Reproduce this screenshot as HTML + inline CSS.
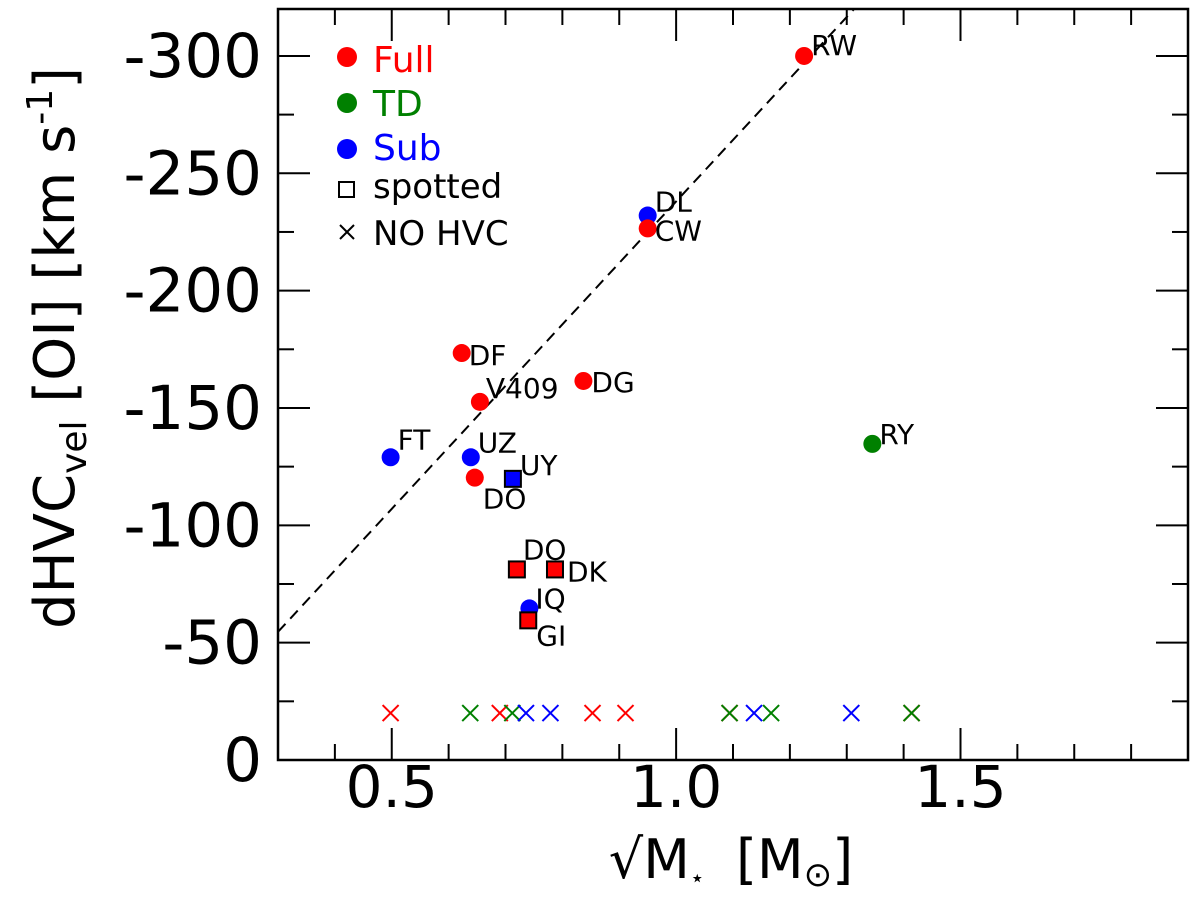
<!DOCTYPE html>
<html><head><meta charset="utf-8"><style>
body{margin:0;background:#fff}
svg{display:block;font-family:"DejaVu Sans","Liberation Sans",sans-serif}
</style></head><body>
<svg id="c" width="1200" height="905"></svg>
<script>
const names=["RW","DL","CW","DF","DG","V409","RY","FT","UZ","DO","UY","DO","DK","IQ","GI"];
const xs=[1.225,0.95,0.95,0.623,0.837,0.655,1.345,0.498,0.639,0.646,0.713,0.72,0.787,0.742,0.74];
const ys=[300,232,226.5,173.4,161.5,152.6,134.7,129,129,120.3,119.8,81.2,81.2,64.6,59.5];
const cls=["Full","Sub","Full","Full","Full","Full","TD","Sub","Sub","Full","Sub","Full","Full","Sub","Full"];
const spotted=[0,0,0,0,0,0,0,0,0,0,1,1,1,0,1];
const labDx=[7,7,7,7,8,6,7,7,7,8,7,6,12,6,8];
const labDy=[-1,-4,12,12,11,-4,0,-8,-5,31,-4,-10,12,0,25];
const noX=[0.498,0.69,0.638,0.712,0.736,0.779,0.853,0.911,1.094,1.094,1.137,1.167,1.308,1.414,1.414];
const noC=["Full","Full","TD","TD","Sub","Sub","Full","Full","Full","TD","Sub","TD","Sub","Full","TD"];
const noY=20;
const fitSlope=262, fitInt=-24;
const xTicks=[0.5,1.0,1.5], yTicks=[0,50,100,150,200,250,300];
const col={Full:"#ff0000",TD:"#008000",Sub:"#0000ff"};
const L=278,R=1188,T=9,B=760,x0=0.3,x1=1.9,y0=0,y1=320;
const X=v=>L+(v-x0)/(x1-x0)*(R-L), Y=v=>B-(v-y0)/(y1-y0)*(B-T);
const s=document.getElementById('c');const NS="http://www.w3.org/2000/svg";
function mk(t,a,p){const e=document.createElementNS(NS,t);for(const k in a)e.setAttribute(k,a[k]);(p||s).appendChild(e);return e;}
const xa=x0, xb=(y1-fitInt)/fitSlope;
let e=mk('line',{x1:X(xa),y1:Y(fitSlope*xa+fitInt),x2:X(xb),y2:Y(fitSlope*xb+fitInt),stroke:"#000","stroke-width":2,"stroke-dasharray":"11,7"});


for(let v=0.3;v<=1.9001;v+=0.1){const maj=Math.abs(v*2-Math.round(v*2))<1e-6;const h=maj?32:16;
 mk('line',{x1:X(v),y1:B,x2:X(v),y2:B-h,stroke:"#000","stroke-width":2});
 mk('line',{x1:X(v),y1:T,x2:X(v),y2:T+h,stroke:"#000","stroke-width":2});}
for(let v=0;v<=320;v+=25){const maj=v%50==0;const h=maj?32:16;
 mk('line',{x1:L,y1:Y(v),x2:L+h,y2:Y(v),stroke:"#000","stroke-width":2});
 mk('line',{x1:R,y1:Y(v),x2:R-h,y2:Y(v),stroke:"#000","stroke-width":2});}
e=mk('rect',{x:L,y:T,width:R-L,height:B-T,fill:"none",stroke:"#000","stroke-width":2.5});


xTicks.forEach(v=>{const t=mk('text',{x:X(v),y:807,"font-size":58,"text-anchor":"middle"});t.textContent=v.toFixed(1);

});
yTicks.forEach(v=>{const t=mk('text',{x:262,y:Y(v)+21,"font-size":61,"text-anchor":"end"});t.textContent=v==0?"0":"-"+v;

});
noX.forEach((v,i)=>{const g=mk('g',{stroke:col[noC[i]],"stroke-width":2});const cx=X(v),cy=Y(noY),r=8;
 mk('line',{x1:cx-r,y1:cy-r,x2:cx+r,y2:cy+r},g);mk('line',{x1:cx-r,y1:cy+r,x2:cx+r,y2:cy-r},g);
 
 });
xs.forEach((v,i)=>{const cx=X(v),cy=Y(ys[i]);let m;
 if(spotted[i]){m=mk('rect',{x:cx-8,y:cy-8,width:16,height:16,fill:col[cls[i]],stroke:"#000","stroke-width":2});}
 else m=mk('circle',{cx:cx,cy:cy,r:9,fill:col[cls[i]]});
 
 
 const t=mk('text',{x:cx+labDx[i],y:cy+labDy[i],"font-size":28});t.textContent=names[i];
 
 });
</script>
<svg style="position:absolute;left:0;top:0" width="1200" height="905">
<g font-family="DejaVu Sans, Liberation Sans, sans-serif" font-size="36">
<circle cx="347" cy="57" r="10" fill="#ff0000"/><text x="373" y="72" fill="#ff0000">Full</text>
<circle cx="347" cy="103" r="10" fill="#008000"/><text x="373" y="116" fill="#008000">TD</text>
<circle cx="347" cy="149" r="10" fill="#0000ff"/><text x="373" y="160" fill="#0000ff">Sub</text>
<rect x="339" y="182" width="15" height="15" fill="none" stroke="#000" stroke-width="2"/><text x="373" y="198" font-size="34">spotted</text>
<path d="M340 225 L354 239 M340 239 L354 225" stroke="#000" stroke-width="2"/><text x="373" y="245" font-size="34">NO HVC</text>
</g>
<text x="731" y="878" text-anchor="middle" font-family="DejaVu Sans, Liberation Sans, sans-serif" font-size="54" xml:space="preserve">√M<tspan font-size="24" dy="8">⋆</tspan><tspan dy="-8" dx="14"> [M</tspan><tspan font-size="34" dy="8">⊙</tspan><tspan dy="-8">]</tspan></text>
<text transform="translate(74,348) rotate(-90)" text-anchor="middle" font-family="DejaVu Sans, Liberation Sans, sans-serif" font-size="56">dHVC<tspan font-size="36" dy="12">vel</tspan><tspan dy="-12"> [OI] [km s</tspan><tspan font-size="36" dy="-22">-1</tspan><tspan dy="22">]</tspan></text>
</svg>
</body></html>
